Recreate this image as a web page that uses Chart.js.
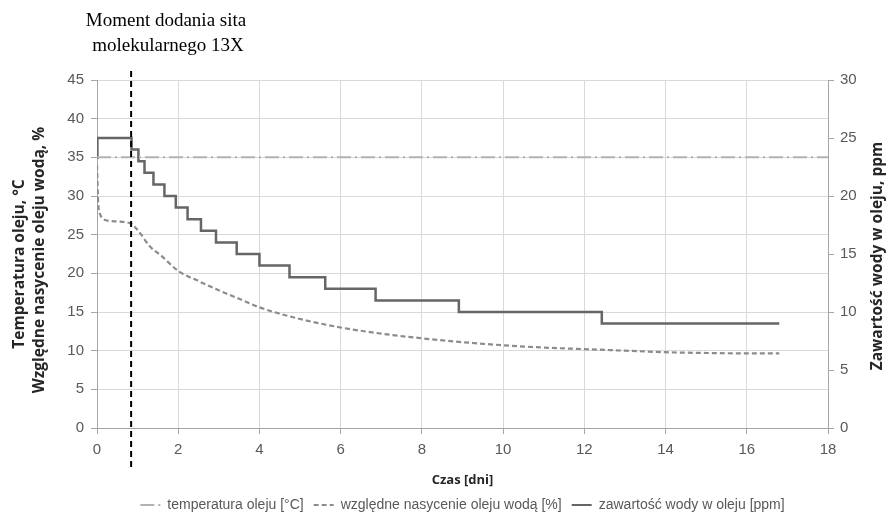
<!DOCTYPE html>
<html>
<head>
<meta charset="utf-8">
<script src="https://cdn.jsdelivr.net/npm/chart.js@4"></script>
<style>
html,body{margin:0;padding:0;background:#fff;}
#wrap{width:888px;height:526px;}
</style>
</head>
<body>
<div id="wrap"><canvas id="c" width="888" height="526"></canvas></div>
<script>
// ---- data ----
const xTicks = [0, 2, 4, 6, 8, 10, 12, 14, 16, 18];
const leftTicks = [0, 5, 10, 15, 20, 25, 30, 35, 40, 45];
const rightTicks = [0, 5, 10, 15, 20, 25, 30];

const tempDays = [0, 18];
const tempValues = [35, 35];

const satDays = [0, 0.03, 0.08, 0.2, 0.5, 0.84, 1.0, 1.3, 1.6, 2.0, 2.5, 3.0, 3.5, 4.0, 5, 6, 7, 8, 9, 10, 11, 12, 13, 14, 15, 16, 16.8];
const satValues = [34, 29, 27.6, 26.9, 26.7, 26.4, 25.6, 23.5, 22.2, 20.3, 19.0, 17.8, 16.7, 15.6, 14.1, 13.0, 12.2, 11.6, 11.1, 10.7, 10.4, 10.2, 10.0, 9.8, 9.7, 9.65, 9.65];

const waterDays = [0, 0.01, 0.85, 1.02, 1.17, 1.39, 1.66, 1.94, 2.23, 2.56, 2.93, 3.44, 4.0, 4.74, 5.62, 6.86, 8.91, 12.43, 16.8];
const waterPpm = [23.3, 25, 24, 23, 22, 21, 20, 19, 18, 17, 16, 15, 14, 13, 12, 11, 10, 9, 9];

const markerDay = 0.84;
const seriesNames = ['temperatura oleju [°C]', 'względne nasycenie oleju wodą [%]', 'zawartość wody w oleju [ppm]'];
const annotationLines = ['Moment dodania sita', 'molekularnego 13X'];
const xTitle = 'Czas [dni]';
const leftTitle = ['Temperatura oleju, °C', 'Względne nasycenie oleju wodą, %'];
const rightTitle = 'Zawartość wody w oleju, ppm';

const pts = (xs, ys) => xs.map((x, i) => ({x: x, y: ys[i]}));

const FONT = "'Liberation Sans Narrow', 'Liberation Sans', sans-serif";
const BOLDFONT = "'Open Sans', 'Liberation Sans', sans-serif";

const overlay = {
  id: 'overlay',
  afterDraw(chart) {
    const ctx = chart.ctx;
    const xs = chart.scales.x;
    const ys = chart.scales.y;
    const mx = xs.getPixelForValue(markerDay);
    ctx.save();
    ctx.strokeStyle = '#000';
    ctx.lineWidth = 2;
    ctx.setLineDash([6, 4]);
    ctx.beginPath();
    ctx.moveTo(mx, ys.top - 9);
    ctx.lineTo(mx, ys.bottom + 40);
    ctx.stroke();
    ctx.restore();

    ctx.save();
    ctx.fillStyle = '#000';
    ctx.font = "19px 'Liberation Serif', 'DejaVu Serif', serif";
    ctx.textAlign = 'center';
    ctx.textBaseline = 'middle';
    ctx.fillText(annotationLines[0], 166, 21);
    ctx.fillText(annotationLines[1], 168, 46);
    ctx.restore();

    const cy = (ys.top + ys.bottom) / 2;
    const vtitle = (txt, x, y) => {
      ctx.save();
      ctx.fillStyle = '#262626';
      ctx.font = "bold 15.5px " + BOLDFONT;
      ctx.textAlign = 'center';
      ctx.textBaseline = 'middle';
      ctx.translate(x, y);
      ctx.rotate(-Math.PI / 2);
      ctx.fillText(txt, 0, 0);
      ctx.restore();
    };
    vtitle(leftTitle[0], 20, cy + 10);
    vtitle(leftTitle[1], 40, cy + 6);
    vtitle(rightTitle, 878, cy + 2);
  }
};

new Chart(document.getElementById('c'), {
  type: 'line',
  data: {
    datasets: [
      {
        label: seriesNames[0],
        data: pts(tempDays, tempValues),
        yAxisID: 'y',
        borderColor: '#b3b3b3',
        backgroundColor: '#b3b3b3',
        borderWidth: 2,
        borderDash: [14, 4, 2, 4],
        pointRadius: 0,
        tension: 0
      },
      {
        label: seriesNames[1],
        data: pts(satDays, satValues),
        yAxisID: 'y',
        borderColor: '#8c8c8c',
        backgroundColor: '#8c8c8c',
        borderWidth: 2.2,
        borderDash: [5, 3],
        pointRadius: 0,
        cubicInterpolationMode: 'monotone'
      },
      {
        label: seriesNames[2],
        data: pts(waterDays, waterPpm),
        yAxisID: 'y2',
        borderColor: '#666666',
        backgroundColor: '#666666',
        borderWidth: 2.5,
        stepped: true,
        pointRadius: 0
      }
    ]
  },
  options: {
    responsive: false,
    animation: false,
    layout: { padding: { top: 80, bottom: 4, left: 0, right: 0 } },
    plugins: {
      legend: {
        position: 'bottom',
        fullSize: false,
        labels: {
          usePointStyle: true,
          pointStyle: 'line',
          pointStyleWidth: 20,
          boxHeight: 10,
          padding: 10,
          color: '#595959',
          font: { family: FONT, size: 14 },
          generateLabels: chart => chart.data.datasets.map((ds, i) => ({
            text: ds.label,
            datasetIndex: i,
            fillStyle: ds.borderColor,
            strokeStyle: ds.borderColor,
            lineWidth: 2,
            lineDash: ds.borderDash || [],
            pointStyle: 'line',
            fontColor: '#595959',
            hidden: false
          }))
        }
      },
      title: { display: false },
      tooltip: { enabled: false }
    },
    scales: {
      x: {
        type: 'linear',
        min: 0, max: 18,
        afterBuildTicks: s => { s.ticks = xTicks.map(v => ({value: v})); },
        ticks: { color: '#595959', font: { family: FONT, size: 15 }, padding: 7, maxRotation: 0 },
        grid: { color: '#d9d9d9', lineWidth: 1, tickLength: 6, tickColor: '#a6a6a6' },
        border: { color: '#a6a6a6', width: 1 },
        title: { display: true, text: xTitle, color: '#262626', font: { family: BOLDFONT, size: 13, weight: 'bold' }, padding: { top: 2, bottom: 0 } },
        afterFit: s => { s.height = 60; }
      },
      y: {
        position: 'left',
        min: 0, max: 45,
        afterBuildTicks: s => { s.ticks = leftTicks.map(v => ({value: v})); },
        ticks: { color: '#595959', font: { family: FONT, size: 15 }, padding: 7 },
        grid: { color: '#d9d9d9', lineWidth: 1, tickLength: 6, tickColor: '#a6a6a6' },
        border: { color: '#a6a6a6', width: 1 },
        afterFit: s => { s.width = 97; }
      },
      y2: {
        position: 'right',
        min: 0, max: 30,
        afterBuildTicks: s => { s.ticks = rightTicks.map(v => ({value: v})); },
        ticks: { color: '#595959', font: { family: FONT, size: 15 }, padding: 6 },
        grid: { drawOnChartArea: false, tickLength: 6, color: '#a6a6a6' },
        border: { color: '#a6a6a6', width: 1 },
        afterFit: s => { s.width = 60; }
      }
    }
  },
  plugins: [overlay]
});
</script>
</body>
</html>
